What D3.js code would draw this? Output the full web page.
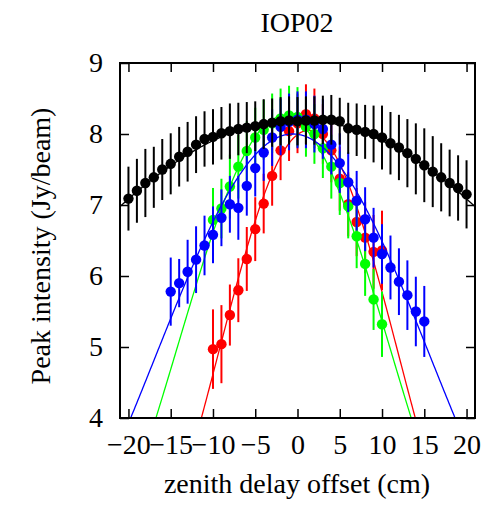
<!DOCTYPE html>
<html>
<head>
<meta charset="utf-8">
<script src="https://cdn.jsdelivr.net/npm/d3@7"></script>
<style>
  body { margin: 0; background: #fff; }
  text { font-family: "Liberation Serif", "Times New Roman", serif; fill: #000; }
</style>
</head>
<body>
<script>
// offsets (cm) for each series
let xBlack = d3.range(-20, 21);
let xBlue = d3.range(-15, 16);
let xRed = d3.range(-10, 11);
let xGreen = d3.range(-10, 11);

// peak intensities
let yBlack = [7.09, 7.20, 7.31, 7.39, 7.50, 7.58, 7.68, 7.75, 7.85, 7.93, 7.96, 8.01, 8.04, 8.07, 8.09, 8.11, 8.14, 8.16, 8.18, 8.19, 8.18,
              8.19, 8.19, 8.20, 8.20, 8.18, 8.08, 8.06, 8.03, 8.00, 7.95, 7.87, 7.81, 7.73, 7.65, 7.56, 7.47, 7.39, 7.31, 7.24, 7.15];
let eBlack = [0.45, 0.45, 0.48, 0.43, 0.43, 0.43, 0.42, 0.42, 0.40, 0.39, 0.39, 0.37, 0.39, 0.37, 0.36, 0.35, 0.35, 0.34, 0.34, 0.34, 0.34,
              0.34, 0.34, 0.34, 0.35, 0.33, 0.36, 0.37, 0.38, 0.40, 0.45, 0.44, 0.46, 0.48, 0.50, 0.52, 0.50, 0.48, 0.47, 0.46, 0.48];
let yBlue = [5.78, 5.90, 6.06, 6.23, 6.43, 6.58, 6.82, 7.01, 6.96, 7.27, 7.52, 7.74, 7.95, 8.10, 8.17, 8.20,
             8.20, 8.14, 8.07, 7.85, 7.59, 7.32, 7.06, 6.80, 6.54, 6.31, 6.12, 5.92, 5.73, 5.50, 5.36];
let eBlue = [0.48, 0.34, 0.45, 0.47, 0.42, 0.40, 0.40, 0.40, 0.45, 0.42, 0.40, 0.40, 0.40, 0.40, 0.40, 0.40,
             0.40, 0.40, 0.42, 0.42, 0.42, 0.42, 0.42, 0.45, 0.42, 0.42, 0.45, 0.47, 0.49, 0.49, 0.50];
let yRed = [4.97, 5.04, 5.45, 5.80, 6.24, 6.66, 7.02, 7.41, 7.77, 8.04, 8.15,
            8.28, 8.22, 8.00, 7.77, 7.37, 7.01, 6.76, 6.54, 6.34, 6.36];
let eRed = [0.56, 0.55, 0.43, 0.45, 0.45, 0.45, 0.42, 0.42, 0.42, 0.42, 0.42,
            0.42, 0.42, 0.42, 0.45, 0.45, 0.45, 0.48, 0.50, 0.52, 0.56];
let yGreen = [6.79, 6.95, 7.26, 7.54, 7.76, 7.95, 8.06, 8.15, 8.22, 8.26, 8.24,
              8.10, 8.00, 7.80, 7.54, 7.31, 6.98, 6.56, 6.17, 5.67, 5.32];
let eGreen = [0.45, 0.42, 0.45, 0.45, 0.42, 0.42, 0.42, 0.42, 0.42, 0.42, 0.42,
              0.42, 0.42, 0.42, 0.45, 0.45, 0.45, 0.45, 0.45, 0.43, 0.46];

// gaussian fit parameters [amplitude, centre, sigma]
let fitBlack = [8.2, 0.0, 37.0];
let fitBlue = [8.0, -0.55, 16.3];
let fitRed = [8.05, 1.28, 10.7];
let fitGreen = [8.25, -1.65, 12.55];

let xTicks = [-20, -15, -10, -5, 0, 5, 10, 15, 20];
let yTicks = [4, 5, 6, 7, 8, 9];

let W = 504, H = 505;
let plot = {left: 120, right: 475, top: 63, bottom: 418};
let fontSize = "28px";

let svg = d3.select("body").append("svg").attr("width", W).attr("height", H);
svg.append("rect").attr("width", W).attr("height", H).attr("fill", "#fff");

let x = d3.scaleLinear().domain([-21, 21]).range([plot.left, plot.right]);
let y = d3.scaleLinear().domain([4, 9]).range([plot.bottom, plot.top]);

svg.append("clipPath").attr("id", "clip")
  .append("rect")
  .attr("x", plot.left).attr("y", plot.top)
  .attr("width", plot.right - plot.left).attr("height", plot.bottom - plot.top);

// ticks on all four sides, pointing inwards
let tickLen = 9;
svg.append("g").attr("transform", "translate(0," + plot.bottom + ")")
  .call(d3.axisBottom(x).tickValues(xTicks).tickSizeInner(-tickLen).tickSizeOuter(0).tickPadding(16).tickFormat(d3.format("d")))
  .call(g => g.select(".domain").remove());
svg.append("g").attr("transform", "translate(0," + plot.top + ")")
  .call(d3.axisTop(x).tickValues(xTicks).tickSizeInner(-tickLen).tickSizeOuter(0).tickFormat(""))
  .call(g => g.select(".domain").remove());
svg.append("g").attr("transform", "translate(" + plot.left + ",0)")
  .call(d3.axisLeft(y).tickValues(yTicks).tickSizeInner(-tickLen).tickSizeOuter(0).tickPadding(17).tickFormat(d3.format("d")))
  .call(g => g.select(".domain").remove());
svg.append("g").attr("transform", "translate(" + plot.right + ",0)")
  .call(d3.axisRight(y).tickValues(yTicks).tickSizeInner(-tickLen).tickSizeOuter(0).tickFormat(""))
  .call(g => g.select(".domain").remove());

svg.selectAll(".tick line").attr("stroke", "#000").attr("stroke-width", 1.5);
svg.selectAll(".tick text").style("font-family", "Liberation Serif").style("font-size", fontSize).attr("fill", "#000");

function drawSeries(xs, ys, es, fit, color){
  let data = xs.map((d, i) => ({x: d, y: ys[i], e: es[i]}));
  let g = svg.append("g").attr("clip-path", "url(#clip)");
  g.selectAll("line.err").data(data).enter().append("line")
    .attr("x1", d => x(d.x)).attr("x2", d => x(d.x))
    .attr("y1", d => y(d.y - d.e)).attr("y2", d => y(d.y + d.e))
    .attr("stroke", color).attr("stroke-width", 2);
  let fx = d3.range(-21, 21.01, 0.1);
  let line = d3.line()
    .x(d => x(d))
    .y(d => y(fit[0] * Math.exp(-Math.pow(d - fit[1], 2) / (2 * fit[2] * fit[2]))));
  g.append("path").datum(fx).attr("d", line)
    .attr("fill", "none").attr("stroke", color).attr("stroke-width", 1.3);
  g.selectAll("circle").data(data).enter().append("circle")
    .attr("cx", d => x(d.x)).attr("cy", d => y(d.y)).attr("r", 5.2)
    .attr("fill", color);
}

drawSeries(xRed, yRed, eRed, fitRed, "#ff0000");
drawSeries(xGreen, yGreen, eGreen, fitGreen, "#00ff00");
drawSeries(xBlue, yBlue, eBlue, fitBlue, "#0000ff");
drawSeries(xBlack, yBlack, eBlack, fitBlack, "#000000");

// frame
svg.append("rect")
  .attr("x", plot.left).attr("y", plot.top)
  .attr("width", plot.right - plot.left).attr("height", plot.bottom - plot.top)
  .attr("fill", "none").attr("stroke", "#000").attr("stroke-width", 2);

svg.append("text").attr("x", 297).attr("y", 32).attr("text-anchor", "middle")
  .style("font-size", fontSize).text("IOP02");
svg.append("text").attr("x", 297).attr("y", 493).attr("text-anchor", "middle")
  .style("font-size", fontSize).text("zenith delay offset (cm)");
svg.append("text").attr("transform", "translate(50,246) rotate(-90)").attr("text-anchor", "middle")
  .style("font-size", fontSize).text("Peak intensity (Jy/beam)");
</script>
</body>
</html>
